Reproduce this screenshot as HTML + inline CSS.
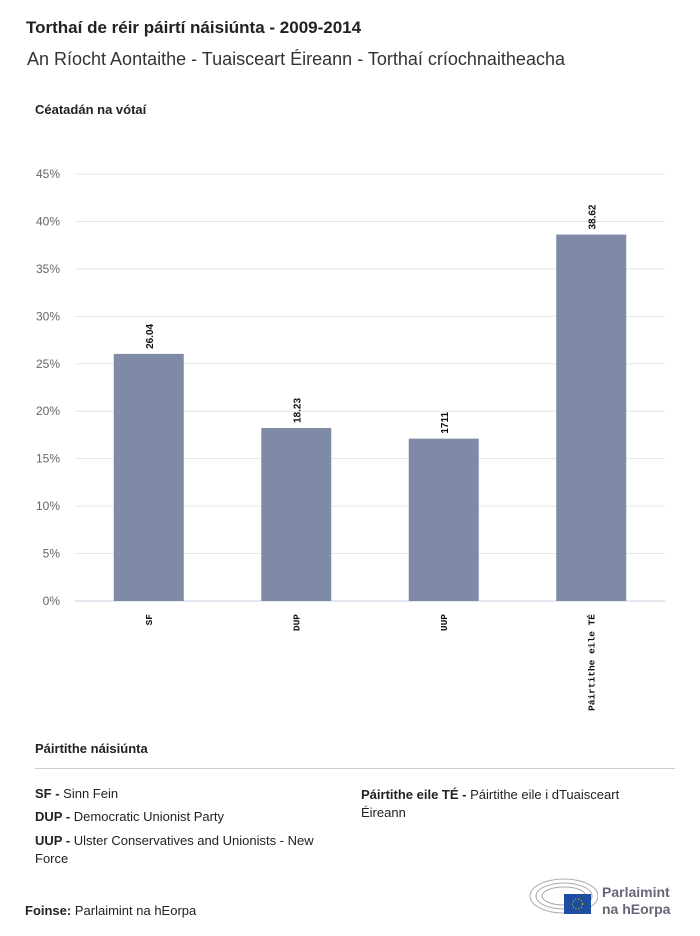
<!DOCTYPE html>
<html><head><meta charset="utf-8"><style>
body{margin:0;width:700px;height:936px;background:#fff;font-family:"Liberation Sans",sans-serif;color:#222;position:relative;overflow:hidden}
.t{position:absolute;white-space:nowrap}
</style></head><body>
<div class="t" style="left:26px;top:18px;font-size:17px;font-weight:bold;">Torthaí de réir páirtí náisiúnta - 2009-2014</div>
<div class="t" style="left:27px;top:49px;font-size:18px;color:#333">An Ríocht Aontaithe - Tuaisceart Éireann - Torthaí críochnaitheacha</div>
<div class="t" style="left:35px;top:102px;font-size:13px;font-weight:bold">Céatadán na vótaí</div>
<svg id="chart" width="700" height="720" style="position:absolute;left:0;top:0"></svg>
<div class="t" style="left:35px;top:741px;font-size:13px;font-weight:bold">Páirtithe náisiúnta</div>
<div style="position:absolute;left:35px;top:768px;width:640px;height:1px;background:#ccc"></div>
<div class="t" style="left:35px;top:786px;font-size:13px"><b>SF - </b>Sinn Fein</div>
<div class="t" style="left:35px;top:809px;font-size:13px"><b>DUP - </b>Democratic Unionist Party</div>
<div style="position:absolute;left:35px;top:832px;width:305px;font-size:13px;line-height:18px"><b>UUP - </b>Ulster Conservatives and Unionists - New Force</div>
<div style="position:absolute;left:361px;top:786px;width:300px;font-size:13px;line-height:18px"><b>Páirtithe eile TÉ - </b>Páirtithe eile i dTuaisceart Éireann</div>
<div class="t" style="left:25px;top:903px;font-size:13px"><b>Foinse:</b> Parlaimint na hEorpa</div>
<svg width="70" height="40" style="position:absolute;left:528px;top:876px">
<g fill="none" stroke="#aaa" stroke-width="1"><ellipse cx="36" cy="20" rx="34" ry="17"/><ellipse cx="36" cy="20" rx="28" ry="13"/><ellipse cx="36" cy="20" rx="22" ry="9"/></g>
<rect x="36" y="18" width="27" height="20" fill="#1f4ea0"/><circle cx="49.5" cy="28" r="5" fill="none" stroke="#fc0" stroke-dasharray="1 2"/></svg>
<div class="t" style="left:602px;top:884px;font-size:14px;font-weight:bold;color:#667;line-height:17px">Parlaimint<br>na hEorpa</div>
<script>
const categories=["SF","DUP","UUP","Páirtithe eile TÉ"];
const values=[26.04,18.23,17.11,38.62];
const valueLabels=["26.04","18.23","1711","38.62"];
const ticks=[0,5,10,15,20,25,30,35,40,45];
const svg=document.getElementById('chart');const NS="http://www.w3.org/2000/svg";
const x0=75,x1=665,yb=601,yt=174,ymax=45;
const y=v=>yb-(v/ymax)*(yb-yt);
const band=(x1-x0)/categories.length;
function mk(t,a){const e=document.createElementNS(NS,t);for(const k in a)e.setAttribute(k,a[k]);svg.appendChild(e);return e;}
ticks.forEach(v=>{
 const l=mk('line',{x1:x0,x2:x1,y1:y(v),y2:y(v),stroke:v===0?'#c8d3e0':'#e6e6e6','stroke-width':1});
 
 
 const t=mk('text',{x:60,y:y(v)+4,'text-anchor':'end','font-size':12,fill:'#666','font-family':'Liberation Sans'});
 t.textContent=v+'%';
 
 
});
categories.forEach((c,i)=>{
 const cx=x0+band*(i+0.5),w=70;
 const r=mk('rect',{x:cx-w/2,y:y(values[i]),width:w,height:yb-y(values[i]),fill:'#7f8aa6'});
 
 
 const vl=mk('text',{transform:`translate(${cx+4},${y(values[i])-5}) rotate(-90)`,'font-size':10,'font-weight':'bold','font-family':'Liberation Sans',fill:'#111'});
 vl.textContent=valueLabels[i];
 
 
 const xl=mk('text',{transform:`translate(${cx+3},${yb+13}) rotate(-90)`,'text-anchor':'end','font-size':9.5,'font-weight':'bold','font-family':'Liberation Mono',fill:'#111'});
 xl.textContent=c;
 
 
});
</script>
</body></html>
